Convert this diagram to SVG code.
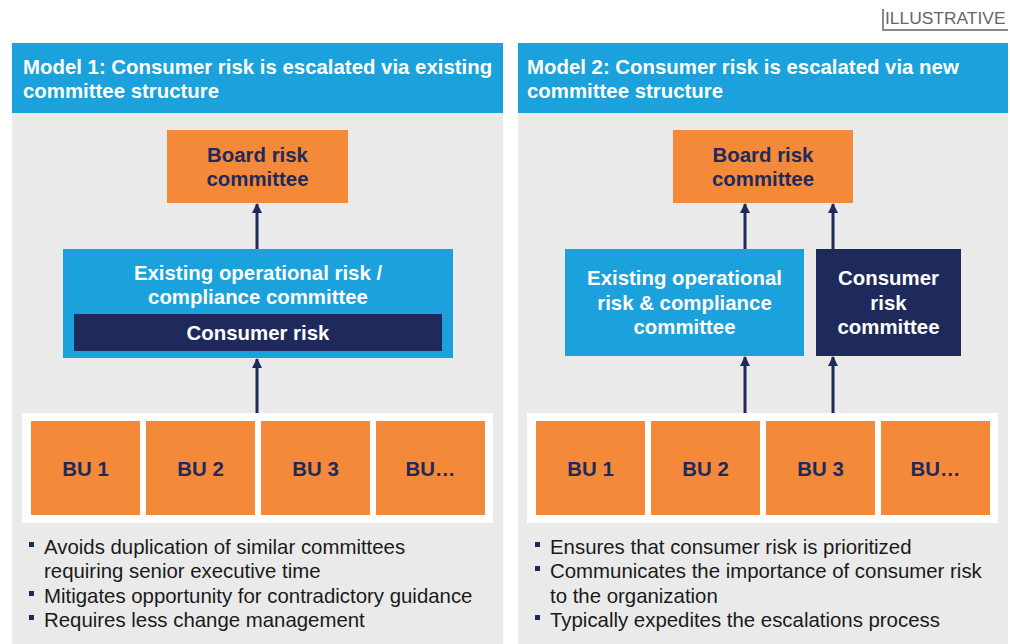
<svg xmlns="http://www.w3.org/2000/svg" width="1010" height="644" viewBox="0 0 1010 644">
<defs>
<style>
.panel{fill:#EAEAEA}
.hdr{fill:#1BA1DB}
.hdrt{font-family:"Liberation Sans",Arial,sans-serif;font-weight:bold;font-size:20.4px;fill:#fff}
.org{fill:#F5893A}
.blue{fill:#1BA1DB}
.navy{fill:#1F2A5C}
.tn{font-family:"Liberation Sans",Arial,sans-serif;font-weight:bold;font-size:20.4px;fill:#1F2A5C;text-anchor:middle}
.tw{font-family:"Liberation Sans",Arial,sans-serif;font-weight:bold;font-size:20.4px;fill:#fff;text-anchor:middle}
.bul{font-family:"Liberation Sans",Arial,sans-serif;font-size:20.4px;fill:#1a1a1a}
.sq{fill:#1F2A5C}
.con{stroke:#1F2A5C;stroke-width:3;fill:none;marker-end:url(#ah)}
</style>
<marker id="ah" viewBox="0 0 10 10" refX="9" refY="5" markerWidth="10" markerHeight="10" markerUnits="userSpaceOnUse" orient="auto">
<path d="M0,0 L10,5 L0,10 z" fill="#1F2A5C"/>
</marker>
</defs>
<rect width="1010" height="644" fill="#fff"/>
<g id="illustrative">
<path d="M883,9 V30 H1008" stroke="#8a8a8a" stroke-width="2" fill="none"/>
<text x="885" y="24" font-family="Liberation Sans,Arial,sans-serif" font-size="17.4" fill="#666">ILLUSTRATIVE</text>
</g>
<g id="panel1">
<rect class="panel" x="12" y="113" width="491" height="531"/>
<rect class="hdr" x="12" y="43" width="491" height="70"/>
<text class="hdrt" x="23" y="74">Model 1: Consumer risk is escalated via existing</text>
<text class="hdrt" x="23" y="98">committee structure</text>
</g>
<g id="panel2">
<rect class="panel" x="518" y="113" width="490" height="531"/>
<rect class="hdr" x="518" y="43" width="490" height="70"/>
<text class="hdrt" x="527" y="74">Model 2: Consumer risk is escalated via new</text>
<text class="hdrt" x="527" y="98">committee structure</text>
</g>
<g id="board1">
<rect class="org" x="167" y="130" width="181" height="73"/>
<text class="tn" x="257.5" y="162">Board risk</text>
<text class="tn" x="257.5" y="186">committee</text>
</g>
<g id="oprisk1">
<rect class="blue" x="63" y="249" width="390" height="109"/>
<text class="tw" x="258" y="280">Existing operational risk /</text>
<text class="tw" x="258" y="304">compliance committee</text>
<rect class="navy" x="74" y="314" width="368" height="37"/>
<text class="tw" x="258" y="340">Consumer risk</text>
</g>
<g id="bus1">
<rect x="22" y="413" width="471" height="110" fill="#fff"/>
<rect class="org" x="31" y="421" width="109" height="94"/>
<rect class="org" x="146" y="421" width="109" height="94"/>
<rect class="org" x="261" y="421" width="109" height="94"/>
<rect class="org" x="376" y="421" width="109" height="94"/>
<text class="tn" x="85.5" y="476">BU 1</text>
<text class="tn" x="200.5" y="476">BU 2</text>
<text class="tn" x="315.5" y="476">BU 3</text>
<text class="tn" x="430.5" y="476">BU…</text>
</g>
<g id="bullets1">
<rect class="sq" x="29" y="542" width="5" height="5"/>
<rect class="sq" x="29" y="591" width="5" height="5"/>
<rect class="sq" x="29" y="615" width="5" height="5"/>
<text class="bul" x="44" y="554">Avoids duplication of similar committees</text>
<text class="bul" x="44" y="578">requiring senior executive time</text>
<text class="bul" x="44" y="603">Mitigates opportunity for contradictory guidance</text>
<text class="bul" x="44" y="627">Requires less change management</text>
</g>
<g id="board2">
<rect class="org" x="673" y="130" width="180" height="73"/>
<text class="tn" x="763" y="162">Board risk</text>
<text class="tn" x="763" y="186">committee</text>
</g>
<g id="oprisk2">
<rect class="blue" x="565" y="249" width="239" height="107"/>
<text class="tw" x="684.5" y="285">Existing operational</text>
<text class="tw" x="684.5" y="310">risk &amp; compliance</text>
<text class="tw" x="684.5" y="334">committee</text>
</g>
<g id="consumer2">
<rect class="navy" x="816" y="249" width="145" height="107"/>
<text class="tw" x="888.5" y="285">Consumer</text>
<text class="tw" x="888.5" y="310">risk</text>
<text class="tw" x="888.5" y="334">committee</text>
</g>
<g id="bus2">
<rect x="527" y="413" width="471" height="110" fill="#fff"/>
<rect class="org" x="536" y="421" width="109" height="94"/>
<rect class="org" x="651" y="421" width="109" height="94"/>
<rect class="org" x="766" y="421" width="109" height="94"/>
<rect class="org" x="881" y="421" width="109" height="94"/>
<text class="tn" x="590.5" y="476">BU 1</text>
<text class="tn" x="705.5" y="476">BU 2</text>
<text class="tn" x="820.5" y="476">BU 3</text>
<text class="tn" x="935.5" y="476">BU…</text>
</g>
<g id="bullets2">
<rect class="sq" x="535" y="542" width="5" height="5"/>
<rect class="sq" x="535" y="566" width="5" height="5"/>
<rect class="sq" x="535" y="615" width="5" height="5"/>
<text class="bul" x="550" y="554">Ensures that consumer risk is prioritized</text>
<text class="bul" x="550" y="578">Communicates the importance of consumer risk</text>
<text class="bul" x="550" y="603">to the organization</text>
<text class="bul" x="550" y="627">Typically expedites the escalations process</text>
</g>
<g id="connectors">
<line class="con" x1="257" y1="249" x2="257" y2="204"/>
<line class="con" x1="257" y1="413" x2="257" y2="359"/>
<line class="con" x1="745" y1="249" x2="745" y2="204"/>
<line class="con" x1="833" y1="249" x2="833" y2="204"/>
<line class="con" x1="745" y1="413" x2="745" y2="357"/>
<line class="con" x1="833" y1="413" x2="833" y2="357"/>
</g>
</svg>
